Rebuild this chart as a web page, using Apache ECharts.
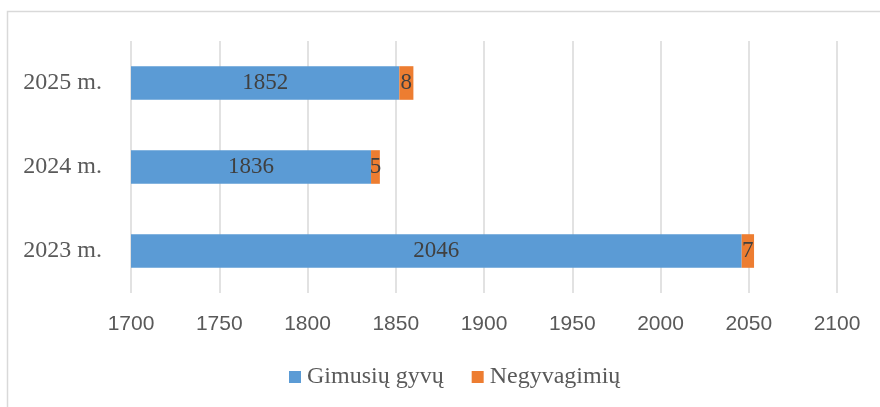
<!DOCTYPE html>
<html>
<head>
<meta charset="utf-8">
<script src="https://cdn.jsdelivr.net/npm/echarts@6/dist/echarts.min.js"></script>
<style>
html,body{margin:0;padding:0;background:#fff;}
#chart{width:880px;height:407px;}
</style>
</head>
<body>
<div id="chart"></div>
<script>
const categories = ['2023 m.', '2024 m.', '2025 m.'];
const liveBirths = [2046, 1836, 1852];
const stillBirths = [7, 5, 8];
const seriesNames = ['Gimusių gyvų', 'Negyvagimių'];
const xMin = 1700, xMax = 2100, xStep = 50;

const serif = '"Liberation Serif", "Times New Roman", serif';
const sans = '"Liberation Sans", Arial, sans-serif';

const chart = echarts.init(document.getElementById('chart'), null, {renderer: 'canvas'});
chart.setOption({
  animation: false,
  backgroundColor: '#fff',
  graphic: [{
    type: 'rect',
    shape: {x: 7.5, y: 11.5, width: 900, height: 420},
    style: {fill: 'none', stroke: '#d9d9d9', lineWidth: 1.5},
    silent: true
  }],
  grid: {left: 131, right: 43, top: 41, bottom: 114, containLabel: false},
  legend: {
    left: 284,
    top: 360,
    icon: 'rect',
    itemWidth: 12,
    itemHeight: 12,
    itemGap: 28,
    textStyle: {fontFamily: serif, fontSize: 24, color: '#595959', padding: [0,0,0,1]},
    data: seriesNames
  },
  xAxis: {
    type: 'value',
    min: xMin, max: xMax, interval: xStep,
    axisLine: {show: false},
    axisTick: {show: false},
    axisLabel: {fontFamily: sans, fontSize: 21, color: '#595959', margin: 21,
      formatter: v => String(v)},
    splitLine: {show: true, lineStyle: {color: '#d9d9d9', width: 1.5}}
  },
  yAxis: {
    type: 'category',
    data: categories,
    axisLine: {show: false},
    axisTick: {show: false},
    axisLabel: {fontFamily: serif, fontSize: 24, color: '#595959', margin: 29}
  },
  series: [
    {
      name: seriesNames[0], type: 'bar', stack: 'total', data: liveBirths,
      barWidth: '40%',
      itemStyle: {color: '#5b9bd5'},
      label: {show: true, position: 'inside', fontFamily: serif, fontSize: 23, color: '#404040'}
    },
    {
      name: seriesNames[1], type: 'bar', stack: 'total', data: stillBirths,
      barWidth: '40%',
      itemStyle: {color: '#ed7d31'},
      label: {show: true, position: 'inside', fontFamily: serif, fontSize: 23, color: '#404040'}
    }
  ]
});
</script>
</body>
</html>
